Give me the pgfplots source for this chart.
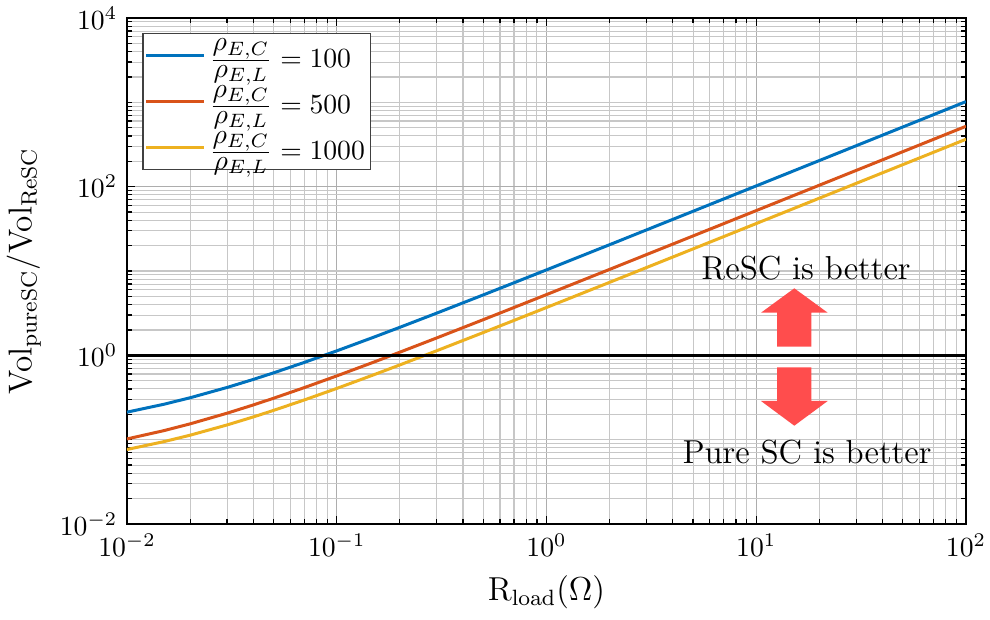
\documentclass[border=0pt]{standalone}
\usepackage{pgfplots}
\pgfplotsset{compat=1.18}
\definecolor{mblue}{rgb}{0,0.447,0.741}
\definecolor{mred}{rgb}{0.85,0.325,0.098}
\definecolor{myellow}{rgb}{0.929,0.694,0.125}
\definecolor{arrowred}{RGB}{255,77,77}
\newcommand{\rr}[1]{\frac{\textstyle\rho_{E,C}}{\textstyle\rho_{E,L}}=#1}
\begin{document}
\begin{tikzpicture}
\useasboundingbox (-45.72bp,-34.56bp) rectangle (310.68bp,188.64bp);
\begin{axis}[
  at={(0,0)}, anchor=south west, scale only axis,
  width=302.04bp, height=182.16bp,
  xmode=log, ymode=log,
  xmin=1e-2, xmax=1e2, ymin=1e-2, ymax=1e4,
  xtick={1e-2,1e-1,1,1e1,1e2},
  ytick={1e-2,1,1e2,1e4},
  minor xtick={0.02,0.03,0.04,0.05,0.06,0.07,0.08,0.09,0.2,0.3,0.4,0.5,0.6,0.7,0.8,0.9,2,3,4,5,6,7,8,9,20,30,40,50,60,70,80,90},
  minor ytick={0.02,0.03,0.04,0.05,0.06,0.07,0.08,0.09,0.1,0.2,0.3,0.4,0.5,0.6,0.7,0.8,0.9,2,3,4,5,6,7,8,9,10,20,30,40,50,60,70,80,90,200,300,400,500,600,700,800,900,1000,2000,3000,4000,5000,6000,7000,8000,9000},
  grid=both,
  major grid style={black!32, line width=0.4pt},
  minor grid style={black!22, line width=0.4pt},
  tick align=inside,
  major tick length=2.9bp, minor tick length=1.8bp,
  axis line style={line width=0.6pt},
  tick style={black, line width=0.45pt},
  tick label style={font=\normalsize},
  xlabel={$\mathrm{R}_{\mathrm{load}}(\Omega)$},
  ylabel={$\mathrm{Vol}_{\mathrm{pureSC}}/\mathrm{Vol}_{\mathrm{ReSC}}$},
  label style={font=\large},
  legend style={at={(0.0182,0.970)}, anchor=north west, draw=black!75,
    line width=0.45pt, font=\normalsize, fill=white,
    inner sep=0.6bp, row sep=2.3bp,
    nodes={inner sep=1.3bp}},
  legend cell align=left,
  legend image code/.code={\draw[#1] (0bp,0bp) -- (20.9bp,0bp);},
]
\addplot[mblue, line width=1.08bp] coordinates {
(0.01,0.212) (0.015,0.263) (0.02,0.314) (0.03,0.416) (0.04,0.518) (0.05,0.62)
(0.07,0.824) (0.1,1.13) (0.15,1.64) (0.2,2.15) (0.3,3.17) (0.5,5.21) (0.7,7.25)
(1,10.31) (2,20.51) (5,51.11) (10,102.11) (20,204.11) (50,510.11) (100,1020.11)};
\addlegendentry{$\rr{100}$}
\addplot[mred, line width=1.08bp] coordinates {
(0.01,0.102) (0.015,0.128) (0.02,0.154) (0.03,0.206) (0.04,0.258) (0.05,0.31)
(0.07,0.414) (0.1,0.57) (0.15,0.83) (0.2,1.09) (0.3,1.61) (0.5,2.65) (0.7,3.69)
(1,5.25) (2,10.45) (5,26.05) (10,52.05) (20,104.05) (50,260.05) (100,520.05)};
\addlegendentry{$\rr{500}$}
\addplot[myellow, line width=1.08bp] coordinates {
(0.01,0.0765) (0.015,0.0948) (0.02,0.113) (0.03,0.1495) (0.04,0.186) (0.05,0.2225)
(0.07,0.2955) (0.1,0.405) (0.15,0.5875) (0.2,0.77) (0.3,1.135) (0.5,1.865) (0.7,2.595)
(1,3.69) (2,7.34) (5,18.29) (10,36.54) (20,73.04) (50,182.54) (100,365.04)};
\addlegendentry{$\rr{1000}$}
\addplot[black, line width=1.08bp, forget plot] coordinates {(0.01,1) (100,1)};
\end{axis}
% annotation arrows (plot area origin at (0,0), 0.36bp per reference pixel)
\fill[arrowred] (234bp,63.83bp) -- (246.35bp,63.83bp) -- (246.35bp,76.07bp) -- (252.25bp,76.07bp)
  -- (240.23bp,84.85bp) -- (228.24bp,76.07bp) -- (234bp,76.07bp) -- cycle;
\fill[arrowred] (234bp,56.41bp) -- (246.35bp,56.41bp) -- (246.35bp,44.28bp) -- (252.25bp,44.28bp)
  -- (240.23bp,35.39bp) -- (228.24bp,44.28bp) -- (234bp,44.28bp) -- cycle;
\node[font=\large] at (244.44bp,92.16bp) {ReSC is better};
\node[font=\large] at (244.8bp,25.92bp) {Pure SC is better};
\end{tikzpicture}
\end{document}
